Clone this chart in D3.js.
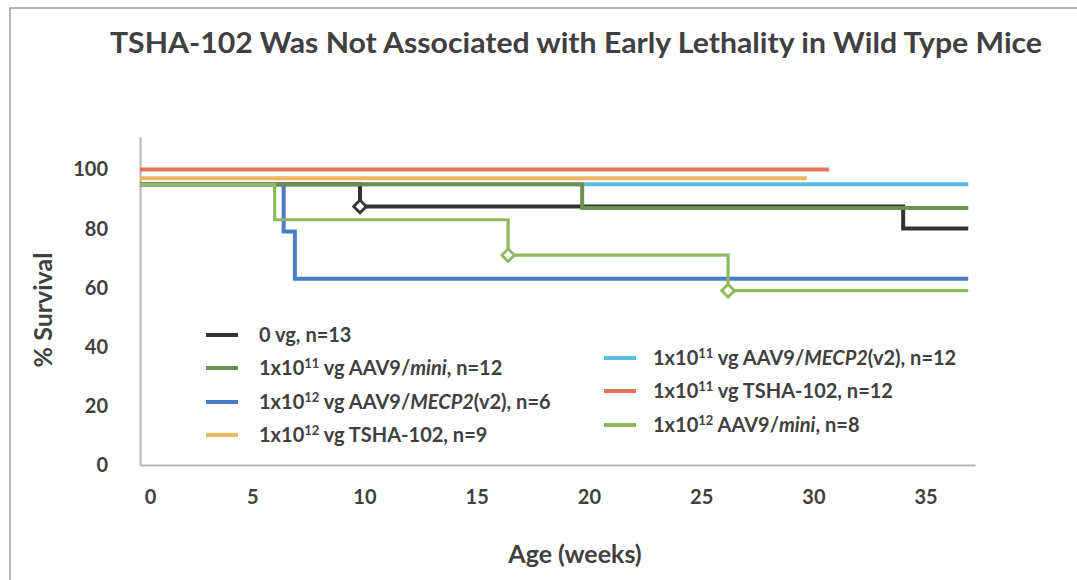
<!DOCTYPE html>
<html>
<head>
<meta charset="utf-8">
<script src="https://cdn.jsdelivr.net/npm/d3@7"></script>
<style>
  body { margin: 0; background: #fff; }
  svg { display: block; font-family: Lato, "Open Sans", sans-serif; }
</style>
</head>
<body>
<script>
// survival curves, [week, % survival] at each step
var black0vg      = [[0, 95], [9.8, 87.5], [34.0, 80]];
var darkGreenMini = [[0, 95], [19.7, 87]];
var blueMecp2Hi   = [[0, 95], [6.4, 79], [6.9, 63]];
var orangeTshaHi  = [[0, 97]];
var cyanMecp2Lo   = [[0, 95]];
var redTshaLo     = [[0, 100]];
var greenMiniHi   = [[0, 95], [6.0, 83], [16.4, 71], [26.2, 59]];

// last week on study for each curve
var endWeeks = [36.9, 36.9, 36.9, 29.7, 36.9, 30.7, 36.9];

// censored marks (open diamonds)
var blackCensor = [[9.8, 87.5]];
var greenCensor = [[16.4, 71], [26.2, 59]];

var xTicks = [0, 5, 10, 15, 20, 25, 30, 35];
var yTicks = [0, 20, 40, 60, 80, 100];

var seriesColors = ["#333333", "#6d8f4f", "#4a7dc8", "#f1b462", "#5bbde3", "#e8725a", "#8cbb5f"];

var width = 1077, height = 580;

var svg = d3.select("body").append("svg")
    .attr("width", width)
    .attr("height", height);

// outer frame of the slide (top + left edges visible)
svg.append("path")
    .attr("d", "M10,580V8H1077")
    .style("fill", "none")
    .style("stroke", "#a0a0a0")
    .style("stroke-width", 1.5);

var x = d3.scaleLinear().domain([0, 37.2]).range([140, 975]);
var y = d3.scaleLinear().domain([0, 111]).range([465, 137]);

// title
svg.append("text")
    .attr("x", 576)
    .attr("y", 53)
    .attr("text-anchor", "middle")
    .attr("textLength", 932)
    .attr("lengthAdjust", "spacingAndGlyphs")
    .style("font-size", "29px")
    .style("font-weight", "bold")
    .style("fill", "#404040")
    .text("TSHA-102 Was Not Associated with Early Lethality in Wild Type Mice");

// axes
var xAxis = svg.append("g")
    .attr("transform", "translate(0," + y(0) + ")")
    .call(d3.axisBottom(x).tickValues(xTicks).tickSize(0).tickPadding(25));

var yAxis = svg.append("g")
    .attr("transform", "translate(" + x(0) + ",0)")
    .call(d3.axisLeft(y).tickValues(yTicks).tickSize(0).tickPadding(32));

[xAxis, yAxis].forEach(function(g) {
  g.select(".domain").style("stroke", "#b5b5b5").style("stroke-width", 2);
  g.selectAll("text")
    .style("font-size", "20px")
    .style("font-weight", "bold")
    .style("fill", "#404040")
    .style("font-family", "Lato, sans-serif");
});
// the "0" sits a little right of the corner in the original
xAxis.selectAll(".tick text").filter(function(d) { return d === 0; }).attr("dx", 10);

svg.append("text")
    .attr("x", 575)
    .attr("y", 563)
    .attr("text-anchor", "middle")
    .style("font-size", "25px")
    .style("font-weight", "bold")
    .style("fill", "#404040")
    .text("Age (weeks)");

svg.append("text")
    .attr("transform", "translate(52,310) rotate(-90)")
    .attr("text-anchor", "middle")
    .style("font-size", "25px")
    .style("font-weight", "bold")
    .style("fill", "#404040")
    .text("% Survival");

// step curves
var allSeries = [black0vg, darkGreenMini, blueMecp2Hi, orangeTshaHi, cyanMecp2Lo, redTshaLo, greenMiniHi];
var drawOrder = [4, 0, 2, 1, 3, 5, 6];

var step = d3.line()
    .x(function(d) { return x(d[0]); })
    .y(function(d) { return y(d[1]); })
    .curve(d3.curveStepAfter);

drawOrder.forEach(function(i) {
  var pts = allSeries[i].slice();
  pts.push([endWeeks[i], pts[pts.length - 1][1]]);
  svg.append("path")
      .attr("d", step(pts))
      .style("fill", "none")
      .style("stroke", seriesColors[i])
      .style("stroke-width", i === 6 ? 3.2 : 4);
});

// censor diamonds
var diamond = d3.symbol().type(d3.symbolSquare).size(80);
function censor(pts, color) {
  svg.selectAll(null).data(pts).enter().append("path")
      .attr("d", diamond)
      .attr("transform", function(d) { return "translate(" + x(d[0]) + "," + y(d[1]) + ") rotate(45)"; })
      .style("fill", "#fff")
      .style("stroke", color)
      .style("stroke-width", 2.8);
}
censor(blackCensor, seriesColors[0]);
censor(greenCensor, seriesColors[6]);

// legend: [base, superscript, plain, italic, tail]
var legendParts = [
  ["0 vg, n=13", "", "", "", ""],
  ["1x10", "11", " vg AAV9/", "mini", ", n=12"],
  ["1x10", "12", " vg AAV9/", "MECP2", "(v2), n=6"],
  ["1x10", "12", " vg TSHA-102, n=9", "", ""],
  ["1x10", "11", " vg AAV9/", "MECP2", "(v2), n=12"],
  ["1x10", "11", " vg TSHA-102, n=12", "", ""],
  ["1x10", "12", " AAV9/", "mini", ", n=8"]
];
var legendX = [206, 206, 206, 206, 604, 604, 604];
var legendY = [335, 368, 402, 435, 358, 391, 425];

legendParts.forEach(function(p, i) {
  var g = svg.append("g").attr("transform", "translate(" + legendX[i] + "," + legendY[i] + ")");
  g.append("line")
      .attr("x1", 0).attr("x2", 32)
      .style("stroke", seriesColors[i])
      .style("stroke-width", 4);
  var t = g.append("text")
      .attr("x", i < 4 ? 53 : 49)
      .attr("dy", "0.36em")
      .style("font-size", "20px")
      .style("font-weight", "bold")
      .style("fill", "#404040");
  t.append("tspan").text(p[0]);
  if (p[1]) {
    t.append("tspan").attr("dy", -7).style("font-size", "13px").text(p[1]);
    t.append("tspan").attr("dy", 7).text(p[2]);
  }
  if (p[3]) t.append("tspan").style("font-style", "italic").text(p[3]);
  if (p[4]) t.append("tspan").text(p[4]);
});
</script>
</body>
</html>
